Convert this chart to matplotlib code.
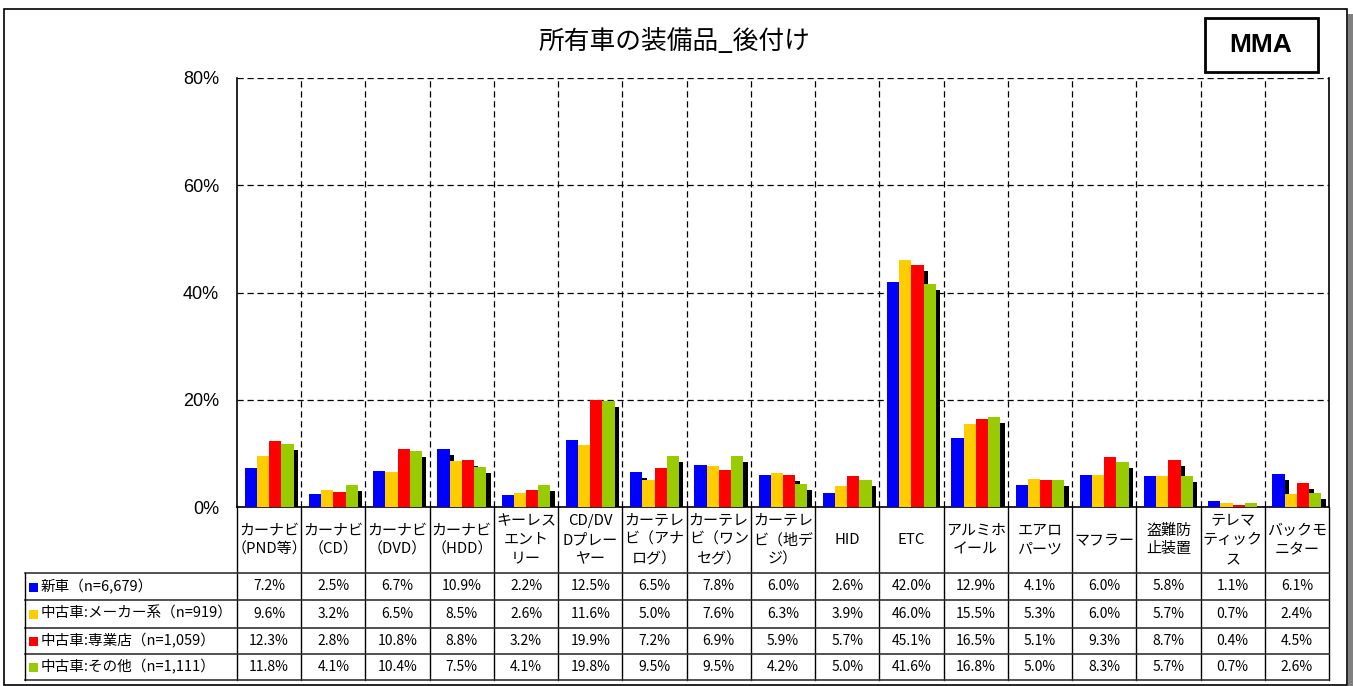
import matplotlib
matplotlib.use('Agg')
import matplotlib.pyplot as plt
import matplotlib.patheffects as pe
from matplotlib.lines import Line2D
from matplotlib.patches import Rectangle
from matplotlib.transforms import blended_transform_factory
import numpy as np

plt.rcParams['font.family'] = ['Noto Sans CJK JP', 'DejaVu Sans']

# データ
categories = ['カーナビ\n（PND等）', 'カーナビ\n（CD）', 'カーナビ\n（DVD）', 'カーナビ\n（HDD）',
              'キーレス\nエント\nリー', 'CD/DV\nDプレー\nヤー', 'カーテレ\nビ（アナ\nログ）',
              'カーテレ\nビ（ワン\nセグ）', 'カーテレ\nビ（地デ\nジ）', 'HID', 'ETC',
              'アルミホ\nイール', 'エアロ\nパーツ', 'マフラー', '盗難防\n止装置',
              'テレマ\nティック\nス', 'バックモ\nニター']
series_names = ['新車（n=6,679）', '中古車:メーカー系（n=919）',
                '中古車:専業店（n=1,059）', '中古車:その他（n=1,111）']
colors = ['#0000FF', '#FFCC00', '#FF0000', '#99CC00']
new_car = [7.2, 2.5, 6.7, 10.9, 2.2, 12.5, 6.5, 7.8, 6.0, 2.6, 42.0, 12.9, 4.1, 6.0, 5.8, 1.1, 6.1]
used_maker = [9.6, 3.2, 6.5, 8.5, 2.6, 11.6, 5.0, 7.6, 6.3, 3.9, 46.0, 15.5, 5.3, 6.0, 5.7, 0.7, 2.4]
used_shop = [12.3, 2.8, 10.8, 8.8, 3.2, 19.9, 7.2, 6.9, 5.9, 5.7, 45.1, 16.5, 5.1, 9.3, 8.7, 0.4, 4.5]
used_other = [11.8, 4.1, 10.4, 7.5, 4.1, 19.8, 9.5, 9.5, 4.2, 5.0, 41.6, 16.8, 5.0, 8.3, 5.7, 0.7, 2.6]
values = [new_car, used_maker, used_shop, used_other]
yticks = [0, 20, 40, 60, 80]

W, H = 1353, 686
fig = plt.figure(figsize=(W / 100, H / 100), dpi=100)


def fx(px):
    return px / W


def fy(py):
    return 1 - py / H


ax = fig.add_axes([fx(237), fy(507), fx(1329) - fx(237), fy(78) - fy(507)])
x = np.arange(len(categories))
bw = 0.19
shadow = [pe.SimplePatchShadow(offset=(3.2, -4.3), shadow_rgbFace='black', alpha=1.0), pe.Normal()]
for i, (vals, c) in enumerate(zip(values, colors)):
    bars = ax.bar(x + (i - 1.5) * bw, vals, bw, color=c, linewidth=0, zorder=3)
    for b in bars:
        b.set_path_effects(shadow)

ax.set_xlim(-0.5, len(categories) - 0.5)
ax.set_ylim(0, 80)
ax.set_yticks(yticks)
ax.set_yticklabels([f'{v}%' for v in yticks], fontfamily='Liberation Sans', fontsize=13)
ax.set_xticks(x)
ax.set_xticks(x[:-1] + 0.5, minor=True)
ax.tick_params(axis='x', which='both', length=0, labelbottom=False)
ax.tick_params(axis='y', length=0, pad=13)
ax.yaxis.grid(True, color='black', lw=0.9, linestyle=(0, (5, 3)))
ax.xaxis.grid(True, which='minor', color='black', lw=0.9, linestyle=(0, (5, 3)))
ax.xaxis.grid(False, which='major')
ax.set_axisbelow(True)
ax.spines['top'].set_visible(False)
for s in ['left', 'right', 'bottom']:
    ax.spines[s].set_linewidth(1.2)

# データテーブル
tr = blended_transform_factory(ax.transData, fig.transFigure)
row_y = [573, 600, 628, 654, 680]
for b in np.arange(-0.5, len(categories), 1.0):
    ax.add_line(Line2D([b, b], [fy(507), fy(680)], transform=tr, color='black', lw=1, clip_on=False))
for yy in row_y:
    fig.add_artist(Line2D([fx(25), fx(1329)], [fy(yy), fy(yy)], color='#333333', lw=1.2))
fig.add_artist(Line2D([fx(25), fx(25)], [fy(573), fy(680)], color='black', lw=1))

for i, cat in enumerate(categories):
    ax.text(i, fy(540), cat, transform=tr, ha='center', va='center', fontsize=10.8,
            linespacing=1.45, clip_on=False)

for r, (name, c, vals) in enumerate(zip(series_names, colors, values)):
    yc = (row_y[r] + row_y[r + 1]) / 2
    fig.add_artist(Rectangle((fx(29), fy(yc + 5)), 9 / W, 9 / H, color=c, lw=0))
    fig.text(fx(41), fy(yc), name, ha='left', va='center', fontsize=10.5)
    for i, v in enumerate(vals):
        ax.text(i, fy(yc), f'{v:.1f}%', transform=tr, ha='center', va='center',
                fontsize=10, clip_on=False)

# タイトルとロゴ
fig.text(fx(674), fy(42), '所有車の装備品_後付け', ha='center', va='center', fontsize=18.5)
fig.add_artist(Rectangle((fx(1205), fy(72)), 113 / W, 54 / H, fill=False, ec='black', lw=2))
fig.text(fx(1261), fy(45), 'MMA', ha='center', va='center', fontsize=19,
         fontweight='heavy', fontfamily='Liberation Sans')

# 外枠
fig.add_artist(Rectangle((fx(1348), 0), 5 / W, fy(14), color='#808080', lw=0))
fig.add_artist(Rectangle((fx(4), fy(685)), 1343 / W, 676 / H, fill=False, ec='black', lw=1.2))

fig.savefig('out.png', dpi=100)
